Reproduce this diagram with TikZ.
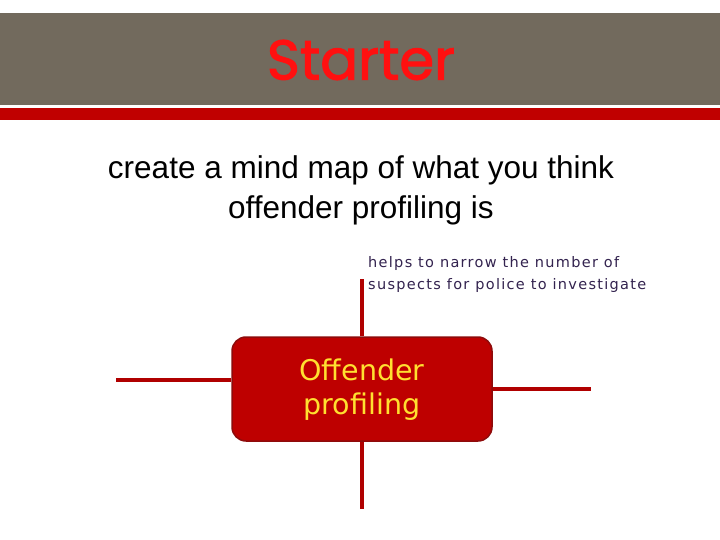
\documentclass[tikz,border=0pt]{standalone}
\usepackage{fontspec}
\setmainfont{Liberation Sans}
\newfontfamily\comicish[LetterSpace=9]{DejaVu Sans}
\newfontfamily\boxfont{DejaVu Sans}
\newfontfamily\titlefont[FakeBold=2]{Poppins}
\definecolor{bargrey}{HTML}{726A5D}
\definecolor{stripe}{HTML}{C00000}
\definecolor{boxred}{HTML}{BE0000}
\definecolor{boxedge}{HTML}{8E0B0B}
\definecolor{linered}{HTML}{B00000}
\definecolor{notecol}{HTML}{33234F}
\definecolor{titlered}{HTML}{FF1010}
\definecolor{boxtext}{HTML}{FFE030}
\begin{document}
\begin{tikzpicture}[x=1pt,y=-1pt,
  branch/.style={draw=linered,line width=4pt},
  centrebox/.style={rounded corners=14pt,fill=boxred,draw=boxedge,line width=1.5pt,
    minimum width=260pt,minimum height=104pt,align=center,inner sep=0pt}]
\useasboundingbox (0,0) rectangle (720,540);
\fill[white] (0,0) rectangle (720,540);
\fill[bargrey] (0,13) rectangle (720,105);
\fill[stripe] (0,108) rectangle (720,120);
\node[font=\titlefont\fontsize{56}{62}\selectfont,text=titlered] (title) at (361,60) {Starter};
\node[align=center,font=\fontsize{31.5}{40}\selectfont] (task) at (361,190)
  {create a mind map of what you think\\offender profiling is};
\node[centrebox] (hub) at (362,389) {};
\node[font=\boxfont\fontsize{28.5}{34}\selectfont,text=boxtext,align=center] (hubtext) at (362,390) {Offender\\profiling};
\coordinate (topend) at (362,279);
\coordinate (botend) at (362,509);
\coordinate (leftend) at (116,380);
\coordinate (rightend) at (591,389);
\draw[branch] (hub.north -| topend) -- (topend);
\draw[branch] (hub.south -| botend) -- (botend);
\draw[branch] (hub.west |- leftend) -- (leftend);
\draw[branch] (hub.east |- rightend) -- (rightend);
\node[anchor=north west,align=left,inner sep=0pt,text=notecol,
  font=\comicish\fontsize{14.5}{22}\selectfont] (note) at (368,256)
  {helps to narrow the number of\\suspects for police to investigate};
\end{tikzpicture}
\end{document}
